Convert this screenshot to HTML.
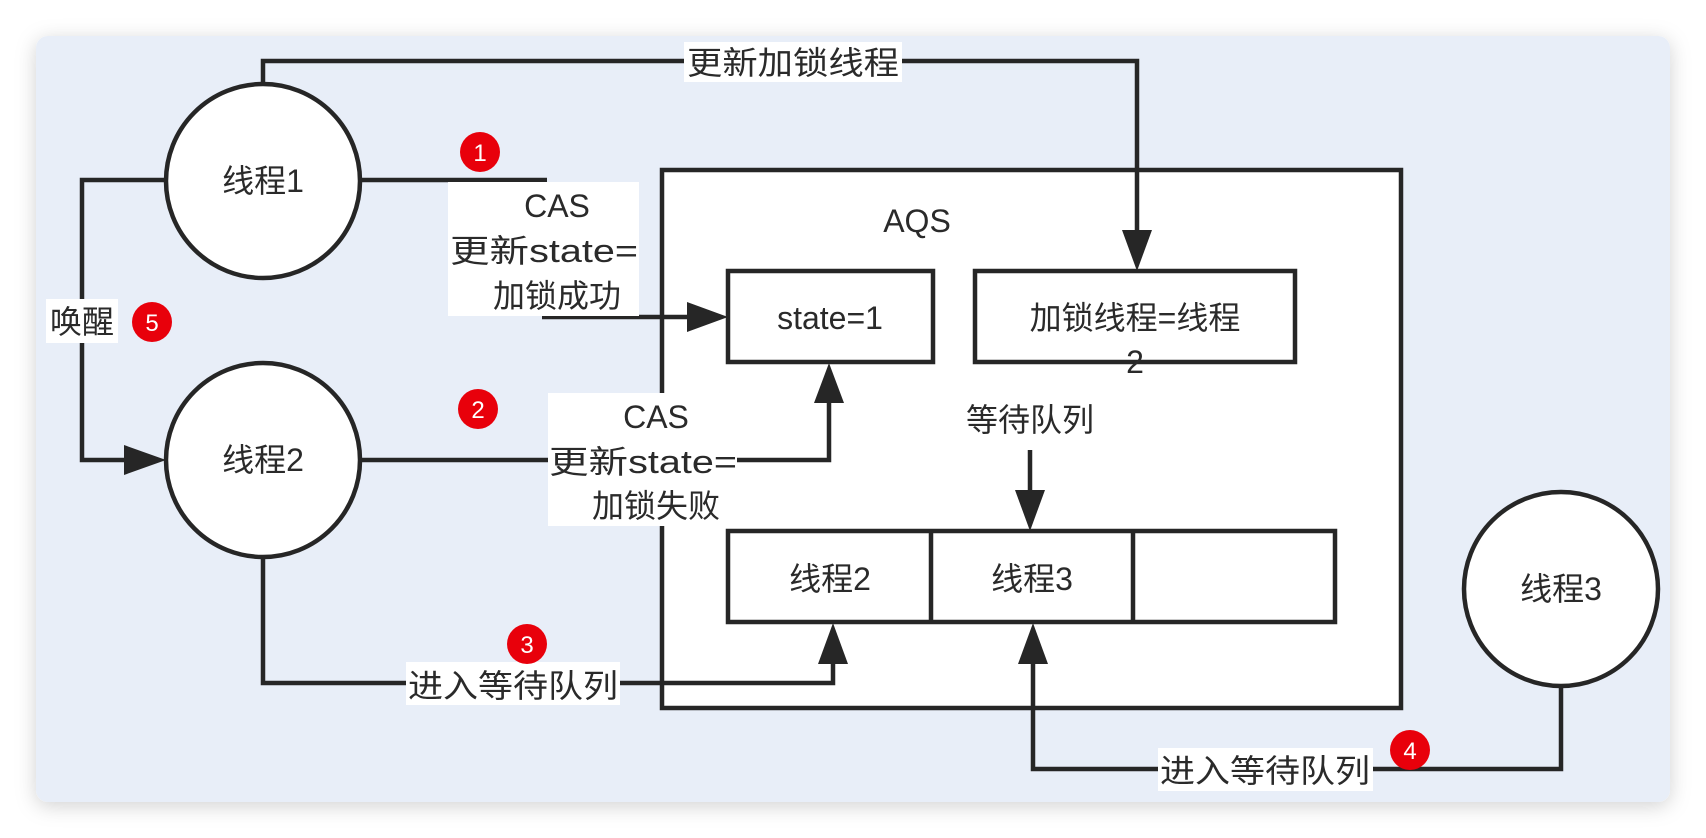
<!DOCTYPE html>
<html><head><meta charset="utf-8"><style>
html,body{margin:0;padding:0;background:#fff;width:1706px;height:838px;overflow:hidden}
text{font-family:"Liberation Sans","Noto Sans CJK SC",sans-serif;fill:#2a2a2a}
</style></head><body>
<svg width="1706" height="838" viewBox="0 0 1706 838" xmlns="http://www.w3.org/2000/svg">
<defs>
<filter id="sh" x="-5%" y="-5%" width="110%" height="115%"><feDropShadow dx="0" dy="4" stdDeviation="10" flood-color="#000" flood-opacity="0.18"/></filter>
</defs>
<rect x="36" y="36" width="1634" height="766" rx="12" fill="#e8eef8" filter="url(#sh)"/>
<g stroke="#262626" stroke-width="4.5" fill="none">
<rect x="662" y="170" width="739" height="538" fill="#fff"/>
<rect x="728" y="271" width="205" height="91" fill="#fff"/>
<rect x="975" y="271" width="320" height="91" fill="#fff"/>
<rect x="728" y="531" width="607" height="91" fill="#fff"/>
<line x1="931" y1="531" x2="931" y2="622"/>
<line x1="1133" y1="531" x2="1133" y2="622"/>
<circle cx="263" cy="181" r="97" fill="#fff"/>
<circle cx="263" cy="460" r="97" fill="#fff"/>
<circle cx="1561" cy="589" r="97" fill="#fff"/>
<polyline points="263,84 263,61 1137,61 1137,236"/>
<line x1="360" y1="180" x2="547" y2="180"/>
<line x1="542" y1="317" x2="690" y2="317"/>
<polyline points="166,180 82,180 82,460 128,460"/>
<polyline points="360,460 829,460 829,400"/>
<polyline points="263,557 263,683 833,683 833,660"/>
<polyline points="1561,686 1561,769 1033,769 1033,660"/>
<line x1="1030" y1="450" x2="1030" y2="495"/>
</g>
<g fill="#262626">
<polygon points="1122,230 1152,230 1137,271"/>
<polygon points="687,302 687,332 728,317"/>
<polygon points="124,445 124,475 166,460"/>
<polygon points="814,403 844,403 829,363"/>
<polygon points="818,664 848,664 833,623"/>
<polygon points="1018,664 1048,664 1033,623"/>
<polygon points="1015,490 1045,490 1030,531"/>
</g>
<g fill="#fff">
<rect x="684" y="42" width="218" height="40"/>
<rect x="448" y="182" width="191" height="134"/>
<rect x="548" y="393" width="189" height="133"/>
<rect x="46" y="299" width="72" height="44"/>
<rect x="406" y="662" width="214" height="43"/>
<rect x="1158" y="748" width="215" height="43"/>
</g>
<g font-size="32" text-anchor="middle">
<text x="793" y="74" textLength="212" lengthAdjust="spacingAndGlyphs">更新加锁线程</text>
<text x="263" y="192">线程1</text>
<text x="263" y="471">线程2</text>
<text x="1561" y="600">线程3</text>
<text x="917" y="232">AQS</text>
<text x="830" y="329">state=1</text>
<text x="1135" y="329">加锁线程=线程</text>
<text x="1135" y="373">2</text>
<text x="1030" y="431">等待队列</text>
<text x="830" y="590">线程2</text>
<text x="1032" y="590">线程3</text>
<text x="557" y="217">CAS</text>
<text x="544" y="262" textLength="188" lengthAdjust="spacingAndGlyphs">更新state=</text>
<text x="557" y="307">加锁成功</text>
<text x="656" y="428">CAS</text>
<text x="643" y="473" textLength="188" lengthAdjust="spacingAndGlyphs">更新state=</text>
<text x="656" y="517">加锁失败</text>
<text x="82" y="333">唤醒</text>
<text x="513" y="697" textLength="210" lengthAdjust="spacingAndGlyphs">进入等待队列</text>
<text x="1265" y="782" textLength="210" lengthAdjust="spacingAndGlyphs">进入等待队列</text>
</g>
<g fill="#e8000b">
<circle cx="480" cy="152" r="20"/>
<circle cx="478" cy="409" r="20"/>
<circle cx="527" cy="644" r="20"/>
<circle cx="1410" cy="750" r="20"/>
<circle cx="152" cy="322" r="20"/>
</g>
<g font-size="24" text-anchor="middle">
<text x="480" y="161" style="fill:#fff">1</text>
<text x="478" y="418" style="fill:#fff">2</text>
<text x="527" y="653" style="fill:#fff">3</text>
<text x="1410" y="759" style="fill:#fff">4</text>
<text x="152" y="331" style="fill:#fff">5</text>
</g>
</svg>
</body></html>
